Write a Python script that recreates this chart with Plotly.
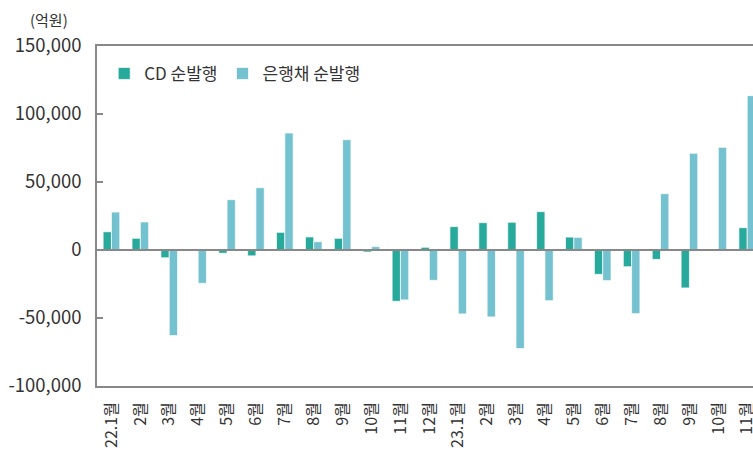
import plotly.graph_objects as go

categories = ["22.1월", "2월", "3월", "4월", "5월", "6월", "7월", "8월", "9월", "10월", "11월", "12월",
              "23.1월", "2월", "3월", "4월", "5월", "6월", "7월", "8월", "9월", "10월", "11월"]
cd_net = [13400, 8600, -5700, 500, -2400, -4300, 13000, 9600, 8600, -1500, -37700, 2000,
          17200, 20100, 20400, 28200, 9500, -17900, -12300, -6900, -27900, -700, 16400]
bank_net = [27900, 20600, -62900, -24500, 37000, 45800, 86000, 6100, 81100, 2500, -36700, -22300,
            -47000, -49200, -72500, -37300, 9300, -22500, -46800, 41400, 71100, 75500, 113500]
y_ticks = [-100000, -50000, 0, 50000, 100000, 150000]
y_labels = ["-100,000", "-50,000", "0", "50,000", "100,000", "150,000"]

FONT = "Noto Sans CJK KR"
x_idx = list(range(len(categories)))

fig = go.Figure()
fig.add_trace(go.Bar(x=x_idx, y=cd_net, name="CD 순발행",
                     marker=dict(color="#27A99B", line=dict(color="white", width=0.7))))
fig.add_trace(go.Bar(x=x_idx, y=bank_net, name="은행채 순발행",
                     marker=dict(color="#74C2CF", line=dict(color="white", width=0.7))))

fig.update_layout(
    width=753, height=452,
    margin=dict(l=97, r=0, t=46, b=66, autoexpand=False),
    paper_bgcolor="white", plot_bgcolor="white",
    barmode="group", bargap=0.425, bargroupgap=0,
    font=dict(family=FONT, color="#333333"),
    showlegend=True,
    legend=dict(orientation="h", x=0.011, y=0.918, xanchor="left", yanchor="middle",
                font=dict(size=17, family=FONT, color="#333333"),
                itemwidth=30, tracegroupgap=0, bgcolor="rgba(0,0,0,0)"),
    annotations=[dict(text="(억원)", xref="paper", yref="paper", x=-0.073, y=1.079,
                      xanchor="center", yanchor="middle", showarrow=False,
                      font=dict(size=15, family=FONT, color="#333333"))],
    shapes=[dict(type="line", xref="paper", x0=0, x1=1, yref="y", y0=0, y1=0,
                 line=dict(color="#888888", width=2), layer="above")],
)
fig.update_xaxes(
    range=[-0.5, 22.2], tickmode="array", tickvals=x_idx, ticktext=categories,
    tickangle=-90, tickfont=dict(size=16, family=FONT, color="#333333"),
    showline=True, linecolor="#888888", linewidth=1.5, mirror=True,
    showgrid=False, ticks="", ticklabelstandoff=8, zeroline=False,
    ticklabeloverflow="allow", automargin=False,
)
fig.update_yaxes(
    range=[-100000, 150000], tickmode="array", tickvals=y_ticks, ticktext=y_labels,
    tickfont=dict(size=18.5, family=FONT, color="#333333"),
    showline=True, linecolor="#888888", linewidth=1.5, mirror=False,
    showgrid=False, ticks="inside", ticklen=6, tickcolor="#888888", tickwidth=1.5,
    zeroline=False, ticklabelstandoff=10, automargin=False,
)

fig.write_html(
    "out.html",
    config={"displayModeBar": False},
    post_script="document.body.style.margin='0';document.documentElement.style.overflow='hidden';",
)
